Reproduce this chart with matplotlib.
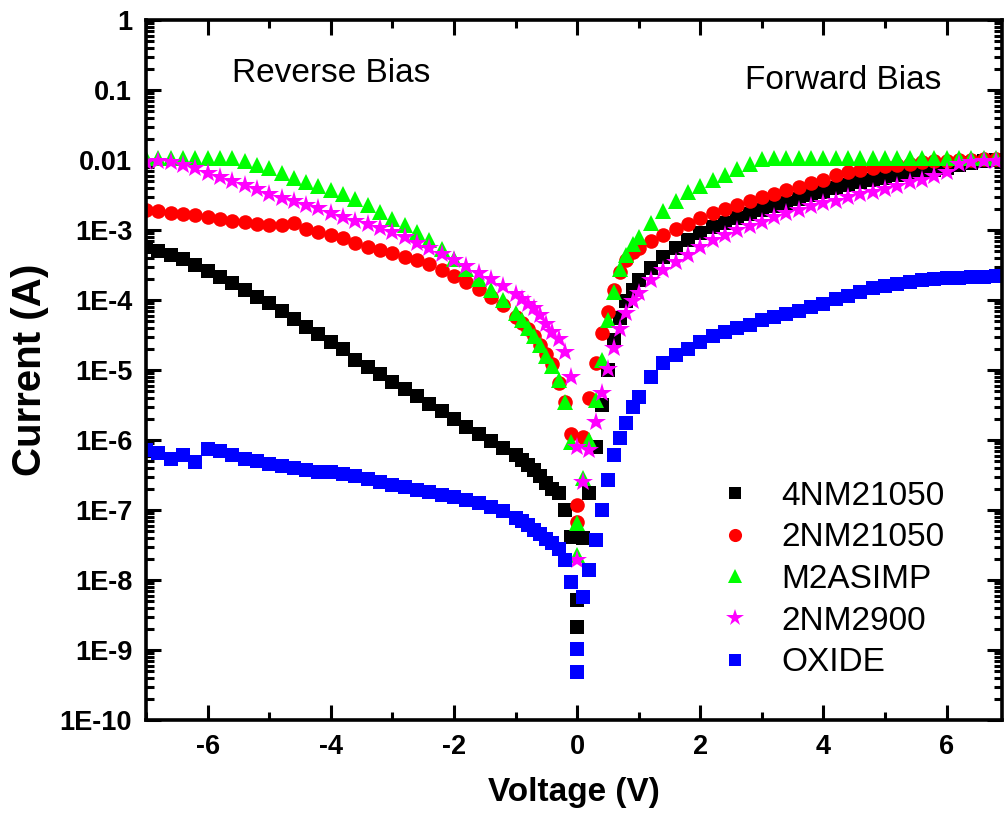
import numpy as np
import matplotlib
matplotlib.use('Agg')
import matplotlib.pyplot as plt
from matplotlib.ticker import LogLocator, MultipleLocator, NullFormatter

plt.rcParams['font.family'] = ['Liberation Sans', 'DejaVu Sans']
plt.rcParams['axes.unicode_minus'] = False

# voltage grid (V): reverse side, central region (two points at 0 V), forward side
v_rev = [-7.0, -6.8, -6.6, -6.4, -6.2, -6.0, -5.8, -5.6, -5.4, -5.2,
         -5.0, -4.8, -4.6, -4.4, -4.2, -4.0, -3.8, -3.6, -3.4, -3.2,
         -3.0, -2.8, -2.6, -2.4, -2.2, -2.0, -1.8, -1.6, -1.4, -1.2, -1.0]
v_mid = [-0.9, -0.8, -0.7, -0.6, -0.5, -0.4, -0.3, -0.2, -0.1, 0.0,
         0.0, 0.1, 0.2, 0.3, 0.4, 0.5, 0.6, 0.7, 0.8, 0.9, 1.0]
v_fwd = [1.2, 1.4, 1.6, 1.8, 2.0, 2.2, 2.4, 2.6, 2.8, 3.0,
         3.2, 3.4, 3.6, 3.8, 4.0, 4.2, 4.4, 4.6, 4.8, 5.0,
         5.2, 5.4, 5.6, 5.8, 6.0, 6.2, 6.4, 6.6, 6.8, 7.0]

# log10 of current (A), same order as the voltage grid
log_4nm21050 = [
    -3.24, -3.30, -3.35, -3.42, -3.50, -3.58, -3.67, -3.76, -3.85, -3.95,
    -4.04, -4.15, -4.27, -4.39, -4.49, -4.60, -4.70, -4.85, -4.96, -5.06,
    -5.17, -5.27, -5.37, -5.48, -5.59, -5.70, -5.81, -5.91, -6.02, -6.12, -6.22,
    -6.28, -6.35, -6.43, -6.52, -6.61, -6.70, -6.76, -7.00, -7.39, -8.29,
    -8.67, -7.40, -6.76, -6.10, -5.50, -5.00, -4.57, -4.25, -4.02, -3.86, -3.71,
    -3.54, -3.38, -3.25, -3.14, -3.04, -2.96, -2.90, -2.83, -2.77, -2.71,
    -2.66, -2.61, -2.55, -2.50, -2.45, -2.40, -2.35, -2.31, -2.28, -2.25,
    -2.22, -2.19, -2.17, -2.14, -2.11, -2.07, -2.04, -2.02, -2.00, -1.99]
log_2nm21050 = [
    -2.71, -2.73, -2.76, -2.77, -2.79, -2.81, -2.84, -2.87, -2.89, -2.91,
    -2.93, -2.93, -2.90, -2.99, -3.03, -3.07, -3.12, -3.18, -3.24, -3.28,
    -3.33, -3.38, -3.43, -3.49, -3.57, -3.65, -3.74, -3.84, -3.95, -4.07, -4.24,
    -4.33, -4.42, -4.52, -4.64, -4.77, -4.92, -5.18, -5.46, -5.92, -6.93,
    -7.17, -5.96, -5.40, -4.90, -4.47, -4.17, -3.85, -3.60, -3.43, -3.32, -3.25,
    -3.15, -3.07, -2.98, -2.91, -2.83, -2.76, -2.70, -2.64, -2.59, -2.53,
    -2.48, -2.43, -2.39, -2.33, -2.28, -2.22, -2.17, -2.14, -2.11, -2.09,
    -2.07, -2.05, -2.03, -2.02, -2.01, -2.00, -2.00, -1.99, -1.99, -1.99]
log_m2asimp = [
    -1.97, -1.97, -1.97, -1.97, -1.97, -1.97, -1.97, -1.97, -2.02, -2.07,
    -2.12, -2.18, -2.25, -2.31, -2.37, -2.43, -2.49, -2.56, -2.64, -2.74,
    -2.84, -2.93, -3.03, -3.14, -3.27, -3.41, -3.55, -3.70, -3.85, -4.00, -4.19,
    -4.29, -4.40, -4.52, -4.64, -4.80, -4.94, -5.14, -5.46, -6.03, -7.19,
    -7.64, -6.54, -6.00, -5.43, -4.86, -4.29, -3.89, -3.55, -3.35, -3.20, -3.10,
    -2.90, -2.73, -2.58, -2.46, -2.37, -2.29, -2.21, -2.13, -2.06, -1.99,
    -1.97, -1.97, -1.97, -1.97, -1.97, -1.97, -1.97, -1.97, -1.97, -1.97,
    -1.97, -1.97, -1.97, -1.97, -1.97, -1.97, -1.97, -1.97, -1.97, -1.97]
log_2nm2900 = [
    -2.03, -2.02, -2.03, -2.07, -2.12, -2.18, -2.24, -2.30, -2.36, -2.42,
    -2.48, -2.54, -2.59, -2.64, -2.69, -2.75, -2.81, -2.87, -2.92, -2.97,
    -3.03, -3.10, -3.18, -3.25, -3.34, -3.43, -3.52, -3.61, -3.70, -3.80, -3.91,
    -3.98, -4.05, -4.12, -4.22, -4.34, -4.45, -4.55, -4.74, -5.10, -6.10,
    -7.72, -6.60, -6.14, -5.74, -5.33, -4.98, -4.69, -4.42, -4.18, -4.02, -3.90,
    -3.71, -3.57, -3.46, -3.36, -3.24, -3.14, -3.07, -3.00, -2.94, -2.88,
    -2.82, -2.76, -2.71, -2.66, -2.62, -2.58, -2.53, -2.49, -2.45, -2.41,
    -2.37, -2.32, -2.28, -2.23, -2.17, -2.06, -2.03, -2.02, -2.01, -2.00]
log_oxide = [
    -6.14, -6.18, -6.27, -6.22, -6.32, -6.13, -6.16, -6.22, -6.27, -6.30,
    -6.34, -6.37, -6.40, -6.43, -6.45, -6.46, -6.49, -6.52, -6.56, -6.60,
    -6.64, -6.67, -6.71, -6.74, -6.78, -6.81, -6.85, -6.90, -6.96, -7.02, -7.11,
    -7.16, -7.22, -7.28, -7.34, -7.42, -7.47, -7.55, -7.72, -8.03, -8.99,
    -9.31, -8.24, -7.86, -7.43, -7.00, -6.57, -6.21, -5.97, -5.76, -5.53, -5.38,
    -5.10, -4.90, -4.79, -4.70, -4.60, -4.52, -4.46, -4.40, -4.35, -4.29,
    -4.24, -4.20, -4.16, -4.10, -4.05, -3.99, -3.94, -3.88, -3.83, -3.80,
    -3.77, -3.74, -3.72, -3.70, -3.69, -3.68, -3.67, -3.67, -3.66, -3.65]

labels = ['4NM21050', '2NM21050', 'M2ASIMP', '2NM2900', 'OXIDE']
y_ticks = [1e-10, 1e-9, 1e-8, 1e-7, 1e-6, 1e-5, 1e-4, 1e-3, 1e-2, 1e-1, 1]
y_ticklabels = ['1E-10', '1E-9', '1E-8', '1E-7', '1E-6', '1E-5', '1E-4',
                '1E-3', '0.01', '0.1', '1']
x_ticks = [-6, -4, -2, 0, 2, 4, 6]

voltage = np.array(v_rev + v_mid + v_fwd)
series = [log_4nm21050, log_2nm21050, log_m2asimp, log_2nm2900, log_oxide]
styles = [('s', 'black', 9.5), ('o', 'red', 10.5), ('^', '#00ff00', 11.5),
          ('*', '#ff00ff', 14.5), ('s', 'blue', 9.5)]

fig = plt.figure(figsize=(10.05, 8.16), dpi=100)
ax = fig.add_axes([0.1453, 0.1176, 0.8517, 0.8578])

for logi, lab, (mk, col, ms) in zip(series, labels, styles):
    ax.plot(voltage, 10.0 ** np.array(logi), linestyle='none', marker=mk,
            color=col, markersize=ms, markeredgewidth=0, label=lab)

ax.set_yscale('log')
ax.set_xlim(-7, 6.9)
ax.set_ylim(1e-10, 1)
ax.set_yticks(y_ticks)
ax.set_yticklabels(y_ticklabels)
ax.yaxis.set_minor_locator(LogLocator(base=10, subs=np.arange(2, 10), numticks=20))
ax.yaxis.set_minor_formatter(NullFormatter())
ax.set_xticks(x_ticks)
ax.xaxis.set_minor_locator(MultipleLocator(1))

for side in ax.spines.values():
    side.set_linewidth(2.6)
ax.tick_params(which='both', direction='in', top=True, right=True, width=2.2)
ax.tick_params(which='major', length=11, labelsize=19.5, pad=10)
ax.tick_params(which='minor', length=6)
for lab in ax.get_xticklabels() + ax.get_yticklabels():
    lab.set_fontweight('bold')

ax.set_xlabel('Voltage (V)', fontsize=24, fontweight='bold', labelpad=12)
ax.set_ylabel('Current (A)', fontsize=29, fontweight='bold', labelpad=8)

ax.text(-5.6, 0.175, 'Reverse Bias', fontsize=24, va='center', ha='left')
ax.text(2.73, 0.139, 'Forward Bias', fontsize=24, va='center', ha='left')

ax.legend(loc='upper left', bbox_to_anchor=(0.698, 0.4315),
          bbox_transform=fig.transFigure, frameon=False, fontsize=24,
          handlelength=1.0, handletextpad=0.9, labelspacing=0.32,
          borderpad=0, markerscale=0.9)

fig.savefig('out.png', dpi=100)
